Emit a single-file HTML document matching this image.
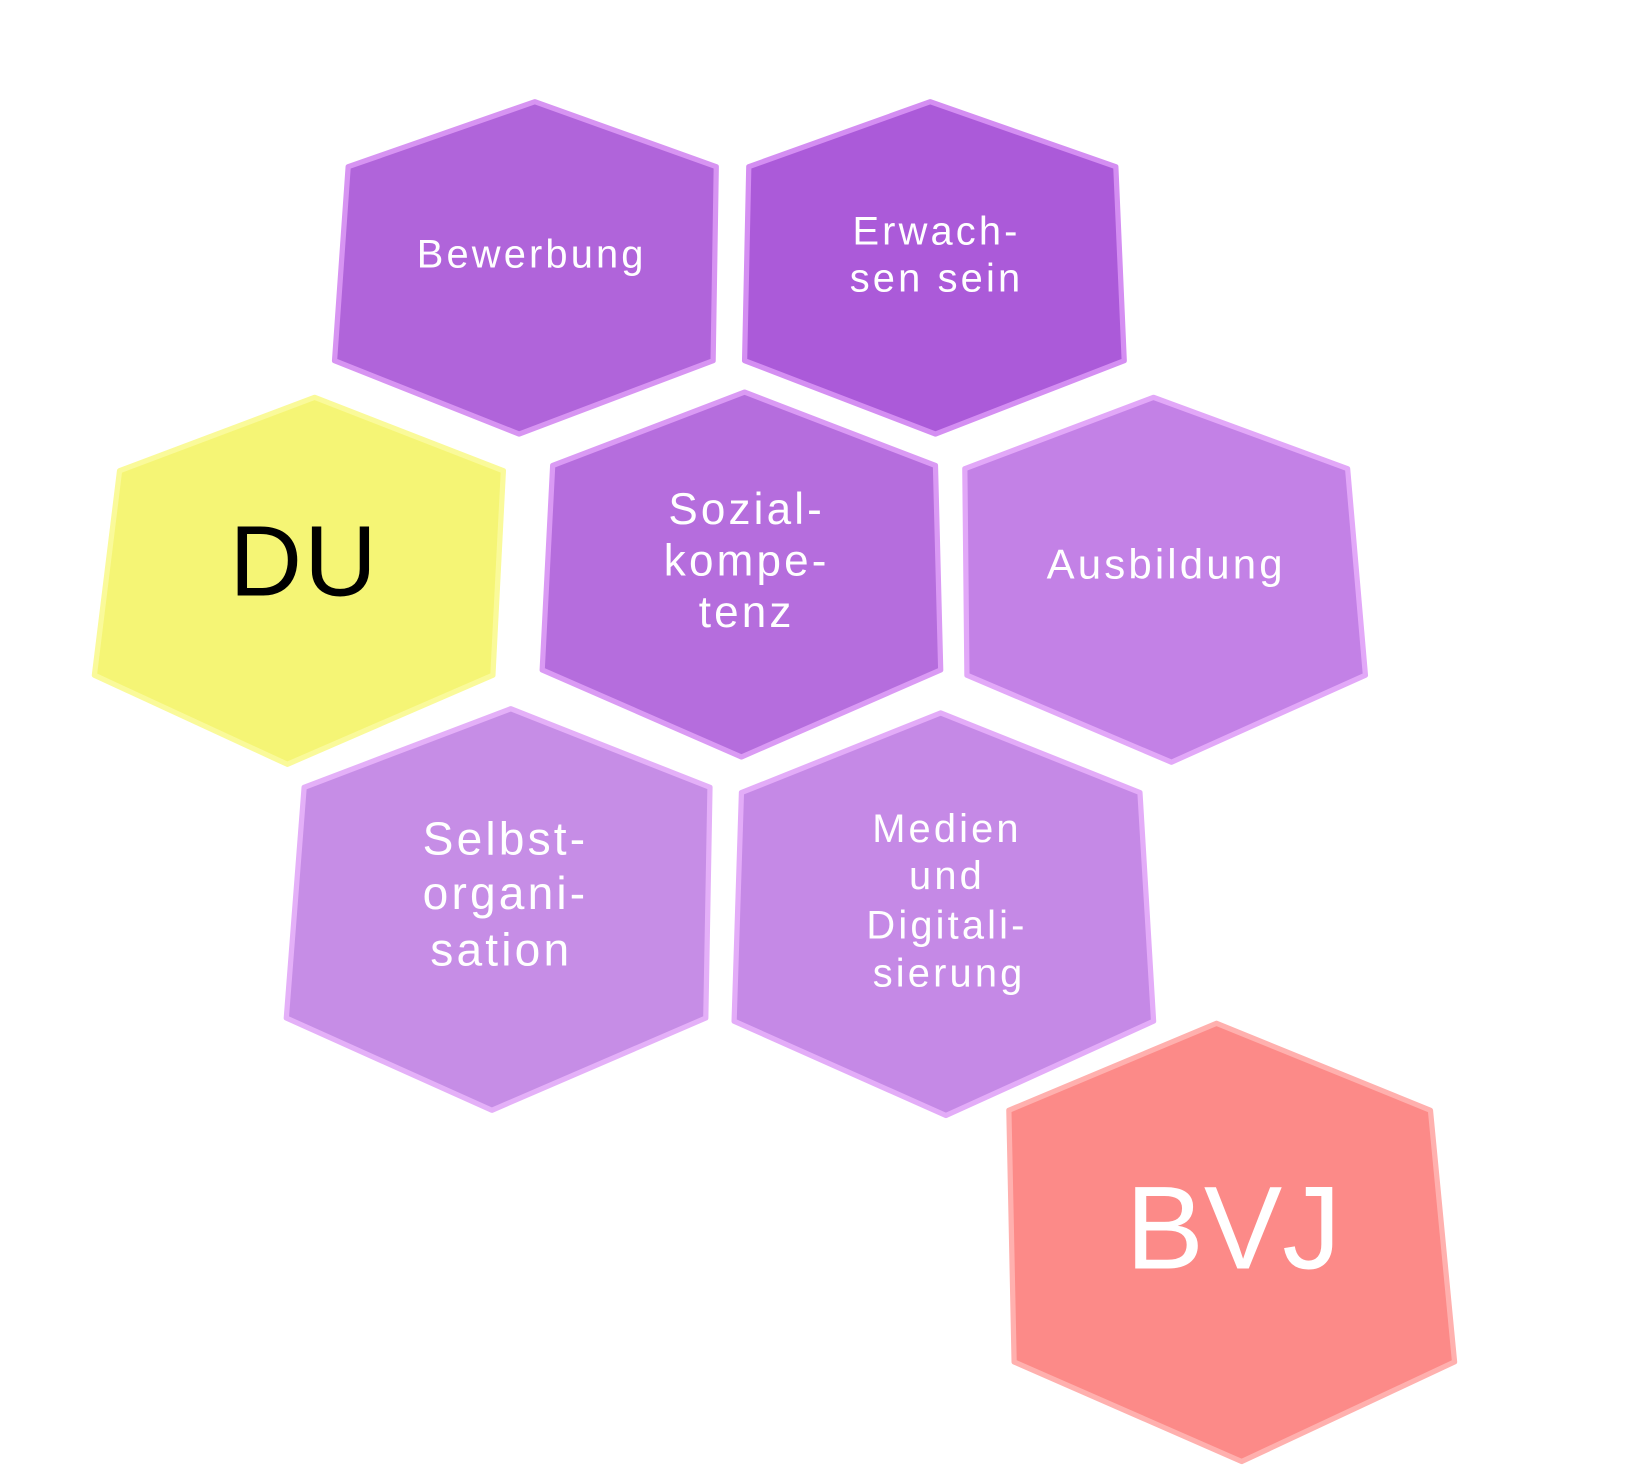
<!DOCTYPE html>
<html><head><meta charset="utf-8"><style>html,body{margin:0;padding:0;background:#fff}svg{display:block}</style></head>
<body>
<svg width="1636" height="1472" viewBox="0 0 1560 1404" preserveAspectRatio="none" xmlns="http://www.w3.org/2000/svg">
<g stroke-linejoin="round" transform="translate(-3,-1)">
<polygon points="513,98 686,160 683,345 498,415 322,345 335,160" fill="#b064da" stroke="#d794f2" stroke-width="5"/>
<polygon points="890,98 1067,160 1075,345 895,415 713,345 717,160" fill="#ab5ad9" stroke="#d48ef2" stroke-width="5"/>
<polygon points="303,380 483,450 473,645 277,730 93,645 117,450" fill="#f5f575" stroke="#fafa9a" stroke-width="5"/>
<polygon points="713,375 895,445 900,640 710,723 520,640 530,445" fill="#b56ddd" stroke="#da9af4" stroke-width="5"/>
<polygon points="1103,380 1288,448 1305,645 1120,728 925,645 923,448" fill="#c381e6" stroke="#e2a8f8" stroke-width="5"/>
<polygon points="490,677 680,752 676,972 472,1060 276,972 293,752" fill="#c68de6" stroke="#e4b0f8" stroke-width="5"/>
<polygon points="900,681 1090,757 1103,975 905,1065 703,975 710,757" fill="#c589e6" stroke="#e3acf8" stroke-width="5"/>
<polygon points="1163,977 1367,1060 1390,1300 1187,1395 970,1300 965,1060" fill="#fc8a88" stroke="#ffb0ae" stroke-width="5"/>
</g>
<g font-family="Liberation Sans, sans-serif" fill="#fff" text-anchor="middle" font-size="38" letter-spacing="3">
<text x="507" y="255">Bewerbung</text>
<text x="893" y="233">Erwach-</text>
<text x="893" y="278">sen sein</text>
<text x="712" y="500" font-size="42">Sozial-</text>
<text x="712" y="549" font-size="42">kompe-</text>
<text x="712" y="598" font-size="42">tenz</text>
<text x="1112" y="552" font-size="40">Ausbildung</text>
<text x="482" y="815" font-size="44">Selbst-</text>
<text x="482" y="867" font-size="44">organi-</text>
<text x="478" y="921" font-size="44">sation</text>
<text x="903" y="803" font-size="38">Medien</text>
<text x="903" y="848" font-size="38">und</text>
<text x="903" y="895" font-size="38">Digitali-</text>
<text x="905" y="941" font-size="38">sierung</text>
<text x="1176" y="1210" font-size="112" letter-spacing="0">BVJ</text>
<text x="290" y="568" font-size="96" fill="#000" letter-spacing="2">DU</text>
</g>
</svg>
</body></html>
